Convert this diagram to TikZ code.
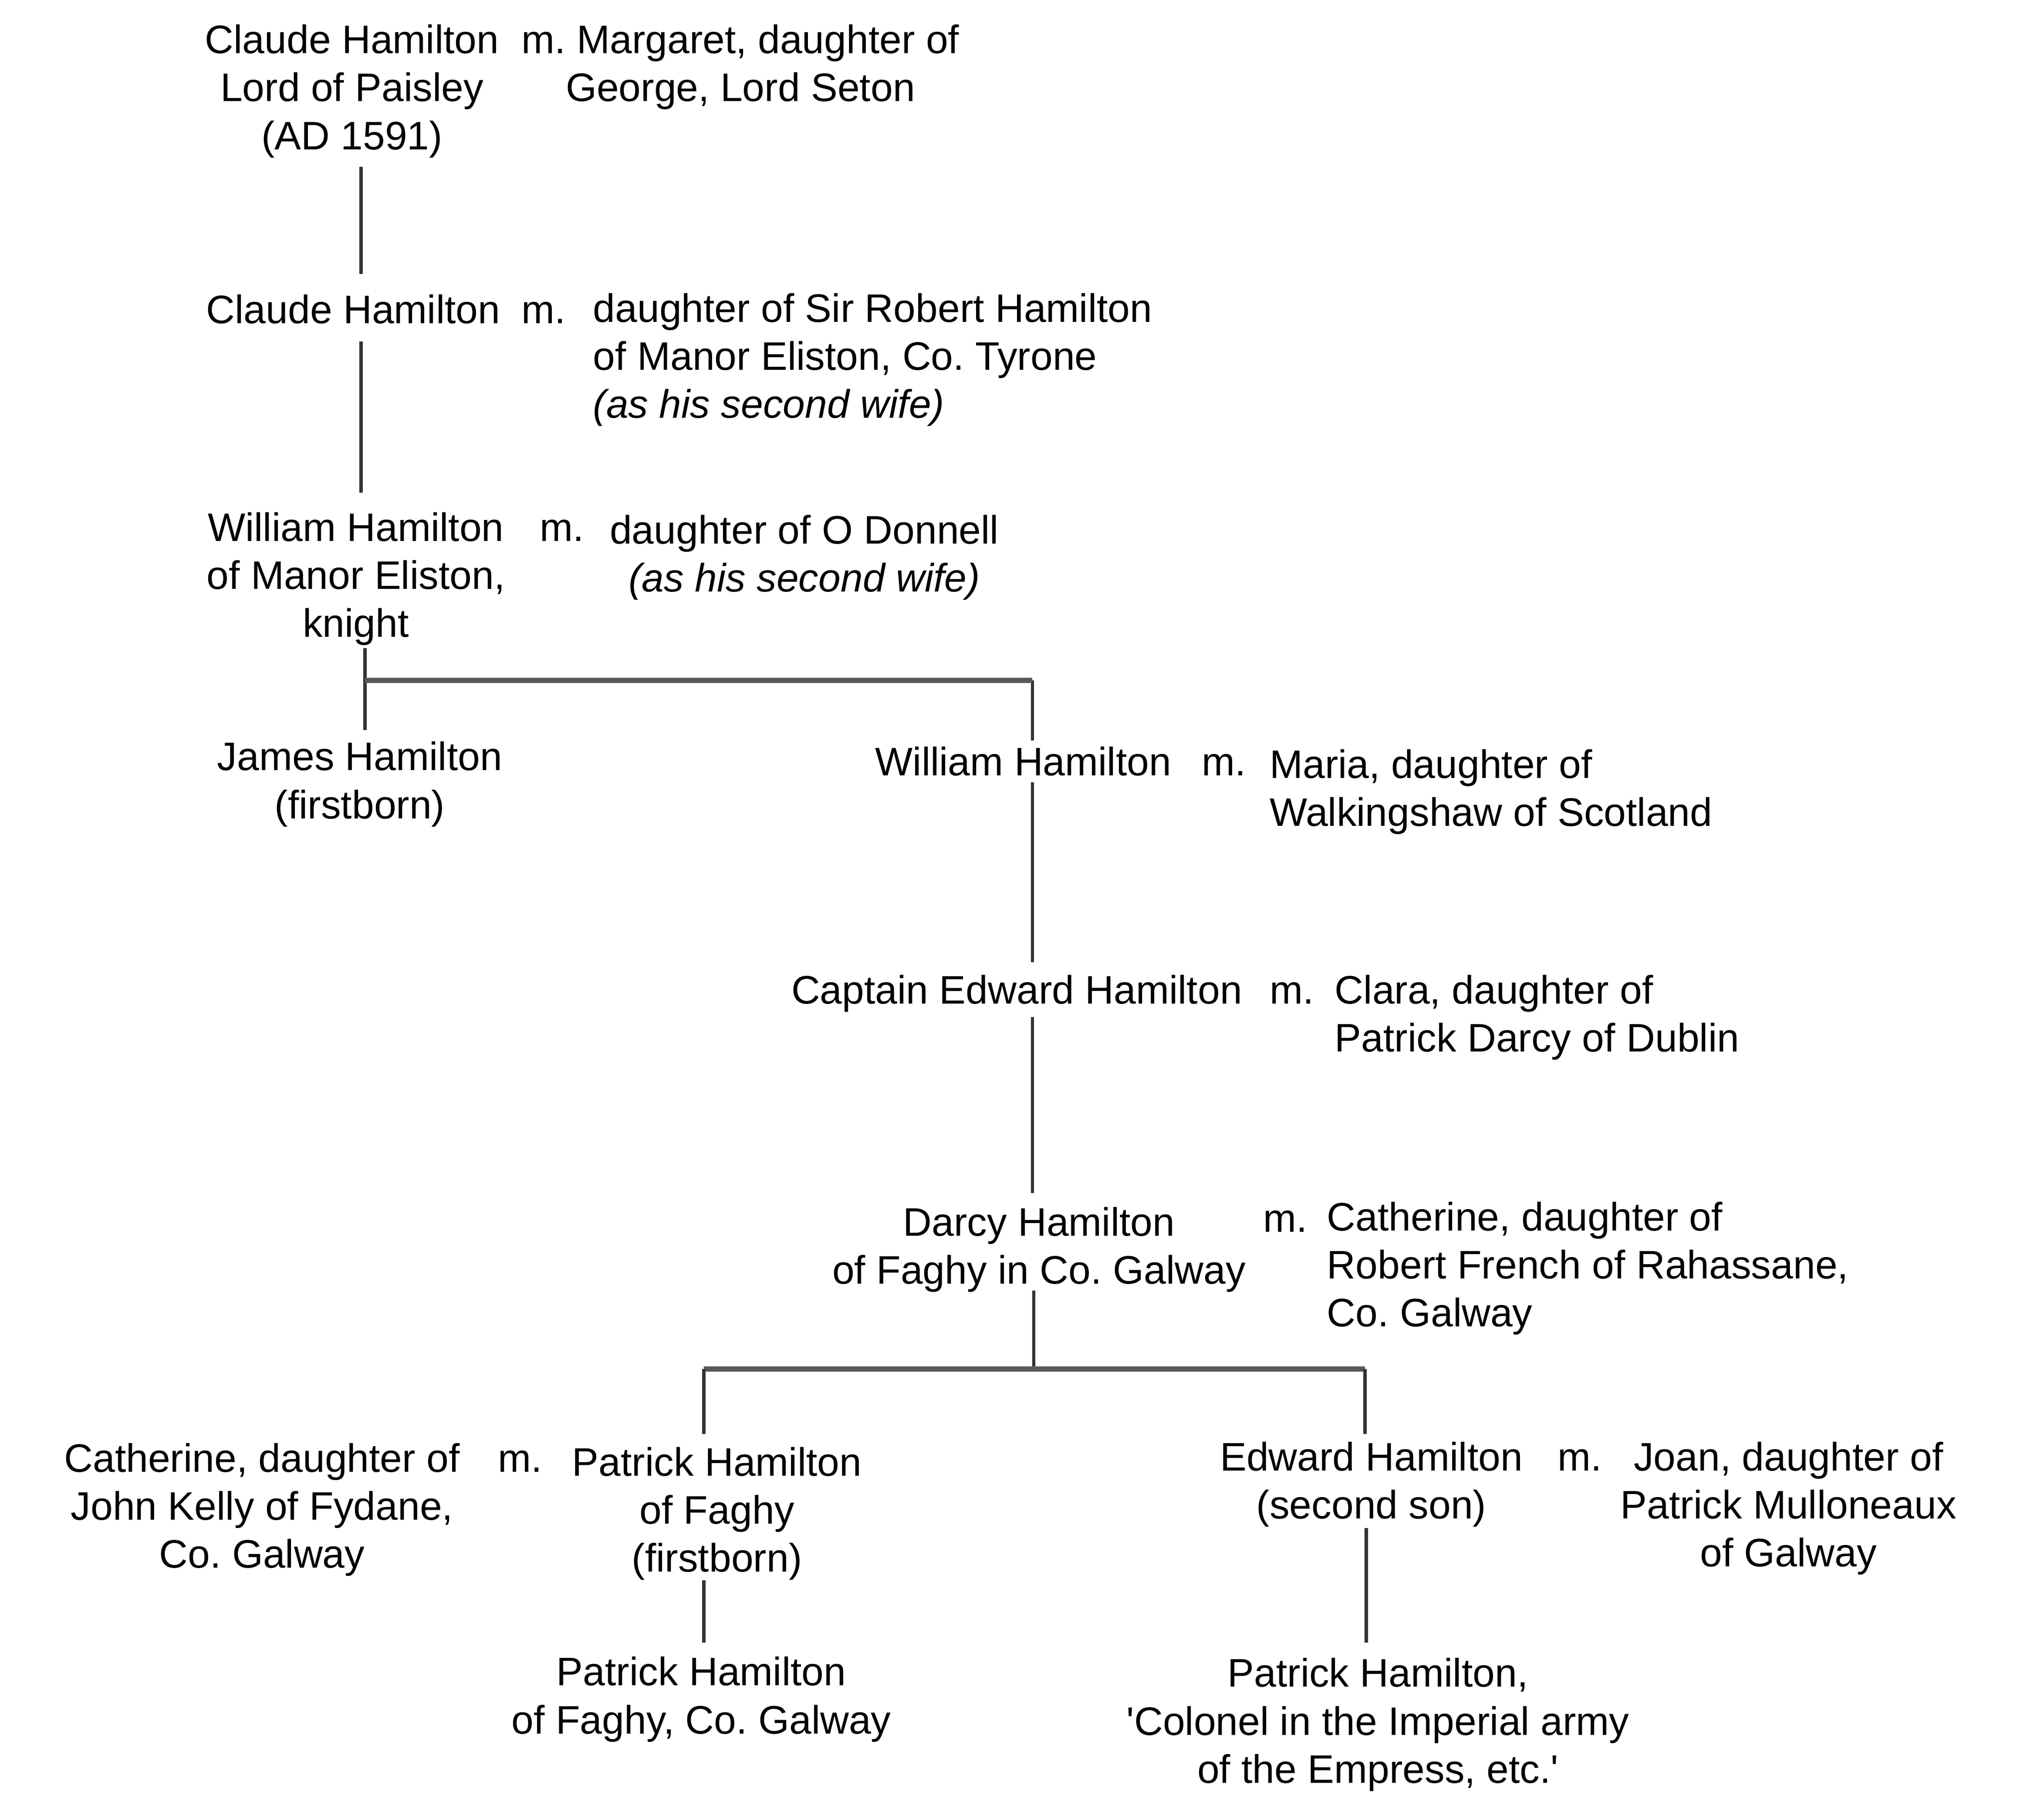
\documentclass[tikz,border=0pt]{standalone}
\usepackage{fontspec}
\setmainfont{Liberation Sans}
\begin{document}
\frenchspacing
\begin{tikzpicture}[x=0.5pt,y=-0.5pt,
  every node/.style={inner sep=0pt, outer sep=0pt, font=\fontsize{15.25}{18.4}\selectfont\frenchspacing},
  person/.style={align=center, anchor=base},
  spouse/.style={align=left, anchor=base west},
  mar/.style={anchor=base west},
  vline/.style={line width=1.3pt, draw=black!80},
  hline/.style={line width=2pt, draw=black!65}]
\useasboundingbox[fill=white] (0,0) rectangle (1568,1382);

% people (anchor = baseline of the last line)
\node[person] (claude1) at (270,114.6) {Claude Hamilton\\Lord of Paisley\\(AD 1591)};
\node[person] (margaret) at (568,77.8) {m. Margaret, daughter of\\George, Lord Seton};

\node[person] (claude2) at (271,248) {Claude Hamilton};
\node[mar] (m2) at (400,248) {m.};
\node[spouse] (robertd) at (455,320.6) {daughter of Sir Robert Hamilton\\of Manor Eliston, Co. Tyrone\\\textit{(as his second wife)}};

\node[person] (william1) at (273,488.6) {William Hamilton\\of Manor Eliston,\\knight};
\node[mar] (m3) at (414,415) {m.};
\node[person] (donnell) at (617,453.8) {daughter of O Donnell\\\textit{(as his second wife)}};

\node[person] (james) at (276,627.8) {James Hamilton\\(firstborn)};
\node[person] (william2) at (785,595) {William Hamilton};
\node[mar] (m4) at (922,595) {m.};
\node[spouse] (maria) at (974,633.8) {Maria, daughter of\\Walkingshaw of Scotland};

\node[person] (edward1) at (780,770) {Captain Edward Hamilton};
\node[mar] (m5) at (974,770) {m.};
\node[spouse] (clara) at (1024,806.8) {Clara, daughter of\\Patrick Darcy of Dublin};

\node[person] (darcy) at (797,984.8) {Darcy Hamilton\\of Faghy in Co. Galway};
\node[mar] (m6) at (969,945) {m.};
\node[spouse] (french) at (1018,1017.6) {Catherine, daughter of\\Robert French of Rahassane,\\Co. Galway};

\node[person] (kelly) at (201,1202.6) {Catherine, daughter of\\John Kelly of Fydane,\\Co. Galway};
\node[mar] (m7) at (382,1129) {m.};
\node[person] (patrick1) at (550,1205.6) {Patrick Hamilton\\of Faghy\\(firstborn)};
\node[person] (edward2) at (1052,1164.8) {Edward Hamilton\\(second son)};
\node[mar] (m8) at (1195,1128) {m.};
\node[person] (joan) at (1372,1201.6) {Joan, daughter of\\Patrick Mulloneaux\\of Galway};

\node[person] (patrick2) at (538,1329.8) {Patrick Hamilton\\of Faghy, Co. Galway};
\node[person] (patrick3) at (1057,1367.6) {Patrick Hamilton,\\\textquotesingle Colonel in the Imperial army\\of the Empress, etc.\textquotesingle};

% connector points
\coordinate (c1b) at (277,128);
\coordinate (c2t) at (277,210);
\coordinate (c2b) at (277,262);
\coordinate (w1t) at (277,378);
\coordinate (w1b) at (280,497);
\coordinate (j1) at (280,522);
\coordinate (j2) at (792,522);
\coordinate (jat) at (280,560);
\coordinate (w2t) at (792,568);
\coordinate (w2b) at (792,600);
\coordinate (e1t) at (792,738);
\coordinate (e1b) at (792,780);
\coordinate (dt) at (792,915);
\coordinate (db) at (793,990);
\coordinate (j3) at (793,1050);
\coordinate (j4) at (540,1050);
\coordinate (j5) at (1047,1050);
\coordinate (p1t) at (540,1100);
\coordinate (e2t) at (1047,1100);
\coordinate (p1b) at (540,1212);
\coordinate (p2t) at (540,1260);
\coordinate (e2b) at (1048,1172);
\coordinate (p3t) at (1048,1260);

% connectors
\draw[vline] (c1b) -- (c2t);
\draw[vline] (c2b) -- (w1t);
\draw[vline] (w1b) -- (j1);
\draw[vline] (j1) -- (jat);
\draw[vline] (j2) -- (w2t);
\draw[hline] (j1) -- (j2);
\draw[vline] (w2b) -- (e1t);
\draw[vline] (e1b) -- (dt);
\draw[vline] (db) -- (j3);
\draw[hline] (j4) -- (j5);
\draw[vline] (j4) -- (p1t);
\draw[vline] (j5) -- (e2t);
\draw[vline] (p1b) -- (p2t);
\draw[vline] (e2b) -- (p3t);
\end{tikzpicture}
\end{document}
